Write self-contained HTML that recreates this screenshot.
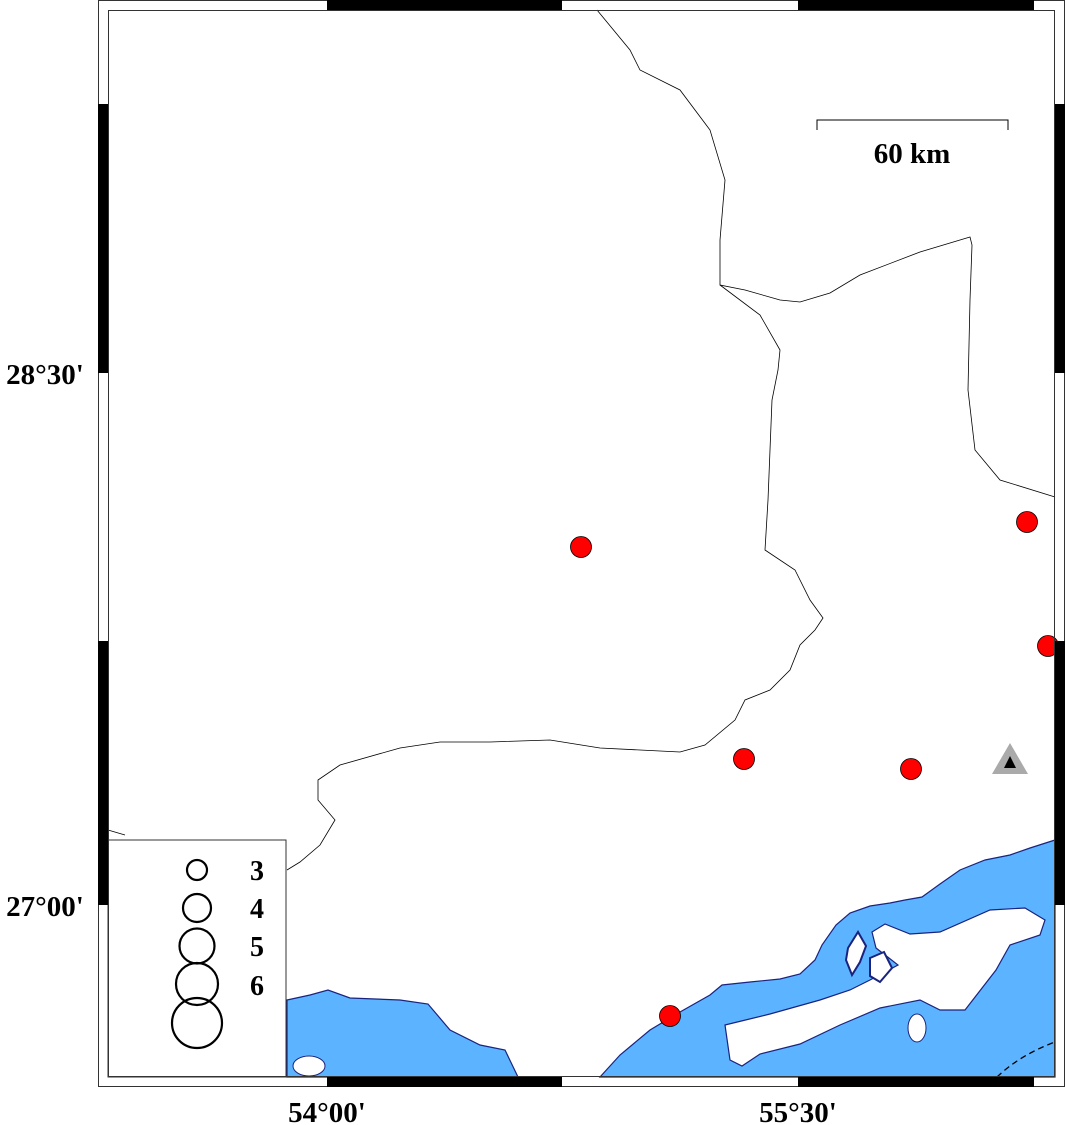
<!DOCTYPE html>
<html><head><meta charset="utf-8"><style>
html,body{margin:0;padding:0;background:#fff;width:1066px;height:1125px;overflow:hidden}
svg{display:block}
text{font-family:"Liberation Serif",serif;font-weight:bold;fill:#000}
</style></head><body>
<svg width="1066" height="1125" viewBox="0 0 1066 1125" xmlns="http://www.w3.org/2000/svg">
<rect x="0" y="0" width="1066" height="1125" fill="#fff"/>
<!-- sea -->
<path d="M287,1000 L310,995 L328,990 L350,998 L400,1000 L428,1004 L450,1030 L480,1045 L505,1050 L518,1077 L287,1077 Z" fill="#5cb3ff" stroke="#1a237e" stroke-width="1.2"/>
<path d="M600,1077 L620,1055 L650,1030 L680,1012 L710,995 L722,985 L750,982 L780,979 L800,974 L815,960 L822,945 L836,925 L850,913 L870,906 L890,903 L905,900 L922,897 L940,884 L960,870 L985,860 L1010,855 L1030,848 L1055,840 L1055,1077 Z" fill="#5cb3ff" stroke="#1a237e" stroke-width="1.2"/>
<ellipse cx="309" cy="1066" rx="16" ry="10" fill="#fff" stroke="#1a237e" stroke-width="1"/>
<path d="M725,1025 L770,1014 L820,1000 L850,990 L870,980 L898,965 L876,948 L872,932 L885,924 L910,934 L940,932 L990,910 L1025,908 L1045,920 L1040,935 L1010,945 L996,970 L965,1010 L940,1010 L920,1000 L880,1008 L840,1025 L800,1044 L760,1054 L742,1066 L730,1060 Z" fill="#fff" stroke="#1a237e" stroke-width="1.2"/>
<ellipse cx="917" cy="1028" rx="9" ry="14" fill="#fff" stroke="#1a237e" stroke-width="1"/>
<path d="M848,948 L858,932 L866,946 L860,962 L852,975 L846,960 Z M870,958 L884,952 L892,968 L880,982 L870,976 Z" fill="#fff" stroke="#1a237e" stroke-width="2"/>
<path d="M997,1077 Q1020,1055 1055,1042" fill="none" stroke="#000" stroke-width="1.3" stroke-dasharray="6,4"/>
<!-- borders -->
<path d="M597,10 L630,50 L640,70 L680,90 L710,130 L725,180 L720,240 L720,285 L745,290 L780,300 L800,302 L830,293 L860,275 L920,252 L970,237 L972,245 L970,300 L968,390 L975,450 L1000,480 L1055,497" fill="none" stroke="#000" stroke-width="0.8"/>
<path d="M720,285 L760,315 L780,350 L778,370 L772,400 L770,450 L768,500 L765,550 L795,570 L810,600 L823,618 L815,630 L800,645 L790,670 L770,690 L745,700 L735,720 L705,745 L680,752 L600,748 L550,740 L490,742 L440,742 L400,748 L340,765 L318,780 L318,800 L335,820 L320,845 L300,862 L287,870" fill="none" stroke="#000" stroke-width="0.8"/>
<path d="M108,830 L125,835" fill="none" stroke="#000" stroke-width="0.8"/>
<!-- events -->
<g fill="#f00" stroke="#000" stroke-width="0.8">
<circle cx="581" cy="547" r="10.5"/><circle cx="1027" cy="522" r="10.5"/><circle cx="1048" cy="646" r="10.5"/>
<circle cx="744" cy="759" r="10.5"/><circle cx="911" cy="769" r="10.5"/><circle cx="670" cy="1016" r="10.5"/>
</g>
<polygon points="1010,743 1028,774 992,774" fill="#aaa"/>
<polygon points="1010,756 1016,768 1004,768" fill="#000"/>
<!-- scale -->
<path d="M817,130 L817,120 L1008,120 L1008,130" fill="none" stroke="#000" stroke-width="1"/>
<text x="912" y="163" font-size="29" text-anchor="middle">60 km</text>
<!-- legend -->
<rect x="108" y="840" width="178" height="237" fill="#fff" stroke="#333" stroke-width="1"/>
<g fill="none" stroke="#000" stroke-width="2.2">
<circle cx="197" cy="870" r="10"/><circle cx="197" cy="908" r="14"/><circle cx="197" cy="946" r="17.5"/><circle cx="197" cy="984" r="21"/><circle cx="197" cy="1023" r="25"/>
</g>
<g font-size="28"><text x="250" y="880">3</text><text x="250" y="918">4</text><text x="250" y="956">5</text><text x="250" y="995">6</text></g>
<!-- frame -->
<rect x="98.5" y="0.5" width="966" height="1086" fill="none" stroke="#333" stroke-width="1"/>
<rect x="108.5" y="10.5" width="946" height="1066" fill="none" stroke="#333" stroke-width="1"/>
<g fill="#000">
<rect x="327" y="0" width="235" height="10"/><rect x="798" y="0" width="236" height="10"/>
<rect x="327" y="1077" width="235" height="10"/><rect x="798" y="1077" width="236" height="10"/>
<rect x="98" y="104" width="10" height="269"/><rect x="98" y="641" width="10" height="264"/>
<rect x="1055" y="104" width="10" height="269"/><rect x="1055" y="641" width="10" height="264"/>
</g>
<g font-size="29">
<text x="45" y="384" text-anchor="middle">28°30'</text>
<text x="45" y="916" text-anchor="middle">27°00'</text>
<text x="327" y="1122" text-anchor="middle">54°00'</text>
<text x="798" y="1122" text-anchor="middle">55°30'</text>
</g>
</svg>
</body></html>
